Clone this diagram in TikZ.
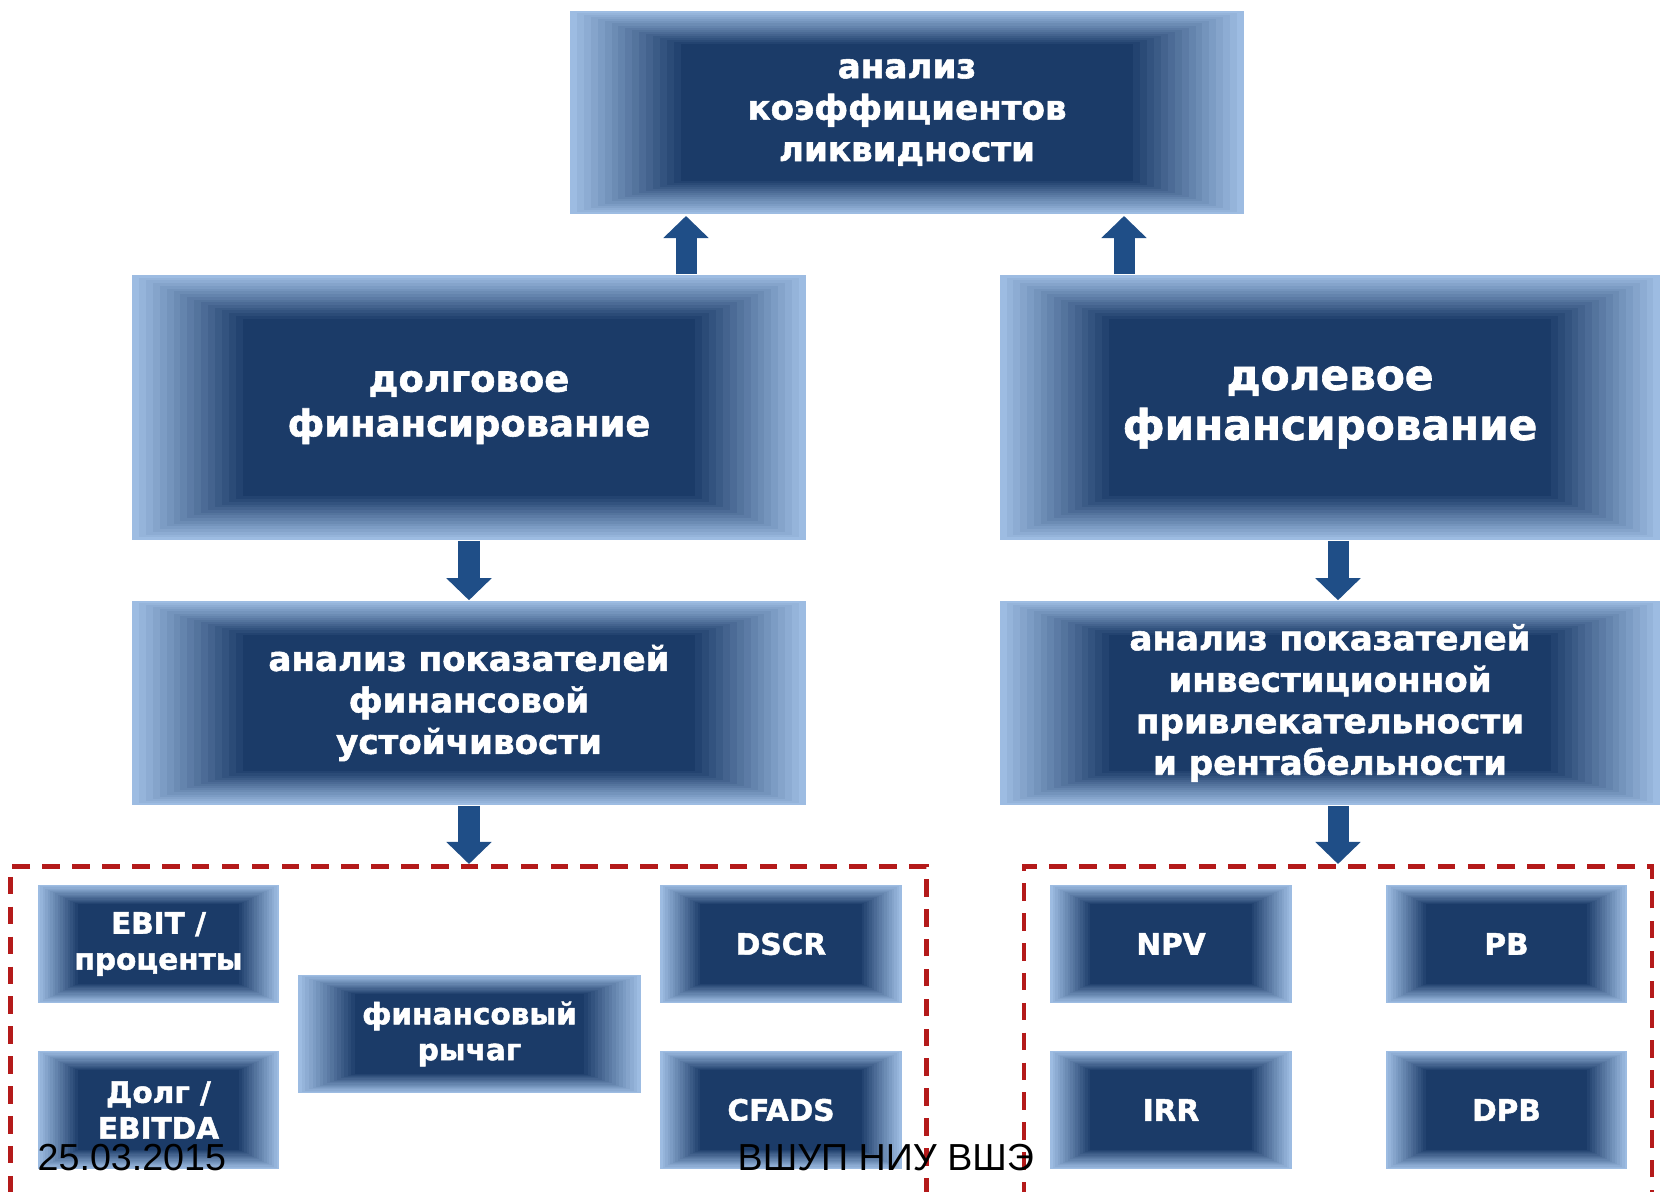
\documentclass[tikz,border=0pt]{standalone}
\usepackage{fontspec}
\usepackage{xcolor}
\usetikzlibrary{calc,arrows.meta}
\setmainfont{DejaVu Sans}[BoldFeatures={FakeBold=1.6}]
\newfontfamily\footfont{Liberation Sans}
\definecolor{navy}{HTML}{1B3B68}
\definecolor{edge}{HTML}{9DBCE2}
\definecolor{arrowblue}{HTML}{1F4E87}
\definecolor{dashred}{HTML}{B41A1A}

\begin{document}
\begin{tikzpicture}[
    x=0.01cm, y=-0.01cm,
    bevel/.style={fill=edge, inner sep=0pt, align=center, text=white,
                  path picture={
                    \foreach \i in {1,...,16}{
                      \pgfmathsetmacro\f{0.165*\i/16}
                      \pgfmathsetmacro\c{100*\i/16}
                      \fill[navy!\c!edge]
                        ($(path picture bounding box.south west)!\f!(path picture bounding box.north east)$)
                        rectangle
                        ($(path picture bounding box.north east)!\f!(path picture bounding box.south west)$);
                    }
                  }},
    bigbox/.style={bevel, minimum width=6.74cm, minimum height=2.04cm,
                   font=\bfseries\fontsize{9.7}{11.8}\selectfont},
    finbox/.style={bigbox, minimum height=2.65cm},
    smallbox/.style={bevel, minimum width=2.41cm, minimum height=1.18cm,
                     font=\bfseries\fontsize{8.4}{10.2}\selectfont},
    group/.style={draw=dashred, line width=1.3pt, dash pattern=on 5pt off 3.5pt,
                  minimum height=4cm},
    flow/.style={draw=arrowblue, line width=0.21cm,
                 -{Triangle[width=0.44cm, length=0.22cm]}},
    foot/.style={font=\footfont\fontsize{10.7}{12}\selectfont, anchor=base west,
                 inner sep=0pt},
]
\useasboundingbox (0,0) rectangle (1660,1192);

% top
\node[bigbox, minimum height=2.03cm] (liq) at (907,112.5)
    {анализ\\коэффициентов\\ликвидности};

% financing
\node[finbox, font=\bfseries\fontsize{10.5}{12.7}\selectfont] (debt) at (469,407.5)
    {долговое\\финансирование};
\node[finbox, minimum width=6.6cm, font=\bfseries\fontsize{12}{14.2}\selectfont] (equity) at (1330,407.5)
    {долевое\\финансирование};

% analysis
\node[bigbox] (stab) at (469,703)
    {анализ показателей\\финансовой\\устойчивости};
\node[bigbox, minimum width=6.6cm] (invest) at (1330,703)
    {анализ показателей\\инвестиционной\\привлекательности\\и рентабельности};

% groups
\node[group, minimum width=9.15cm, anchor=north] (debtgrp) at (468.5,864) {};
\node[group, minimum width=6.28cm, anchor=north] (eqgrp) at (1338,864) {};

% debt indicators
\node[smallbox] (ebit) at (158.5,944) {EBIT /\\проценты};
\node[smallbox] (ebitda) at (158.5,1110) {Долг /\\EBITDA};
\node[smallbox, minimum width=3.42cm] (lever) at (469.5,1034) {финансовый\\рычаг};
\node[smallbox] (dscr) at (781,944) {DSCR};
\node[smallbox] (cfads) at (781,1110) {CFADS};

% equity indicators
\node[smallbox] (npv) at (1171,944) {NPV};
\node[smallbox] (pb) at (1506.5,944) {PB};
\node[smallbox] (irr) at (1171,1110) {IRR};
\node[smallbox] (dpb) at (1506.5,1110) {DPB};

% arrows
\coordinate (upL) at (686,216);
\coordinate (upR) at (1124,216);
\draw[flow] (debt.north -| upL) -- (upL);
\draw[flow] (equity.north -| upR) -- (upR);
\draw[flow] (debt.south) -- (stab.north);
\draw[flow] (equity.south -| eqgrp.north) -- (invest.north -| eqgrp.north);
\draw[flow] (stab.south) -- (stab.south |- debtgrp.north);
\draw[flow] (invest.south -| eqgrp.north) -- (eqgrp.north);

% footer
\node[foot] (date) at (37,1171) {25.03.2015};
\node[foot] (org) at (737,1171) {ВШУП НИУ ВШЭ};
\end{tikzpicture}
\end{document}
